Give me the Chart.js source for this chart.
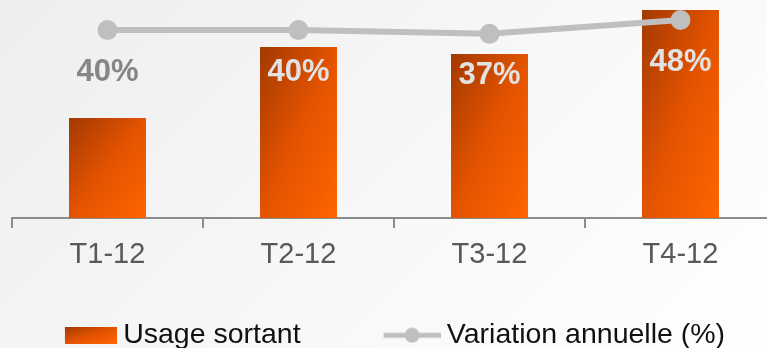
<!DOCTYPE html>
<html lang="fr">
<head>
    <meta charset="UTF-8">
    <title>Usage sortant</title>
    <script src="https://cdn.jsdelivr.net/npm/chart.js"></script>
    <style>
        html, body {
            margin: 0;
            padding: 0;
            width: 767px;
            height: 348px;
            overflow: hidden;
            background: linear-gradient(135deg, #eeeeee 0%, #f8f8f8 55%, #ffffff 100%);
        }
        #wrap {
            position: absolute;
            left: 0;
            top: 0;
            width: 788px;
            height: 348px;
        }
    </style>
</head>
<body>
    <div id="wrap"><canvas id="chart" width="788" height="348"></canvas></div>

    <script>
        // data
        const quarters = ['T1-12', 'T2-12', 'T3-12', 'T4-12'];
        const usageSortant = [100, 171, 164, 208];   // bar heights (relative units)
        const variationAnnuelle = [40, 40, 37, 48];  // %
        const barLabel = 'Usage sortant';
        const lineLabel = 'Variation annuelle (%)';

        const FONT = "'Liberation Sans', Arial, sans-serif";
        const LINE_GREY = '#bfbfbf';
        const BAR_PCT = 0.403;
        const LEGEND_BOX = 122;   // room given to each legend symbol
        const ICON_W = LEGEND_BOX + 16;

        // 45deg gradient that scales with the shape (dark top-left, bright bottom-right)
        function orangeGradient(ctx, x, y, w, h) {
            const k = 2 * w * h / (w * w + h * h);
            const g = ctx.createLinearGradient(x, y, x + k * h, y + k * w);
            g.addColorStop(0, '#a33900');
            g.addColorStop(0.5, '#e35300');
            g.addColorStop(1, '#ff6500');
            return g;
        }

        // legend icons, symbol pushed against the right edge (next to the text)
        const barIcon = document.createElement('canvas');
        barIcon.width = ICON_W; barIcon.height = 17;
        (function () {
            const c = barIcon.getContext('2d');
            const x0 = ICON_W - 52;
            c.fillStyle = orangeGradient(c, x0, 0, 52, 17);
            c.fillRect(x0, 0, 52, 17);
        })();

        const lineIcon = document.createElement('canvas');
        lineIcon.width = ICON_W; lineIcon.height = 16;
        (function () {
            const c = lineIcon.getContext('2d');
            const x0 = ICON_W - 57;
            c.strokeStyle = LINE_GREY;
            c.lineWidth = 5;
            c.beginPath();
            c.moveTo(x0, 8); c.lineTo(ICON_W, 8);
            c.stroke();
            c.fillStyle = LINE_GREY;
            c.beginPath();
            c.arc(x0 + 28.5, 8, 7.5, 0, Math.PI * 2);
            c.fill();
        })();

        // gradient for each bar, from its own box
        function barFill(c) {
            const chart = c.chart;
            const xs = chart.scales.x, ys = chart.scales.y;
            const i = c.dataIndex;
            if (!xs || !ys || i === undefined) return '#e35300';
            const cx = xs.getPixelForValue(i);
            const w = xs.width / quarters.length * BAR_PCT;
            const top = ys.getPixelForValue(usageSortant[i]);
            const base = ys.getPixelForValue(0);
            if (![cx, w, top, base].every(Number.isFinite) || base - top <= 0) return '#e35300';
            return orangeGradient(chart.ctx, cx - w / 2, top, w, base - top);
        }

        // percent labels under each point of the line
        const pointLabels = {
            id: 'pointLabels',
            afterDatasetsDraw(chart) {
                const ctx = chart.ctx;
                const lineMeta = chart.getDatasetMeta(0);
                const barMeta = chart.getDatasetMeta(1);
                ctx.save();
                ctx.font = 'bold 31px ' + FONT;
                ctx.textAlign = 'center';
                ctx.textBaseline = 'middle';
                lineMeta.data.forEach((pt, i) => {
                    const y = pt.y + 42;
                    const bar = barMeta.data[i];
                    ctx.fillStyle = (bar && bar.y < y - 12) ? '#e2e2e2' : '#868686';
                    ctx.fillText(variationAnnuelle[i] + '%', pt.x, y);
                });
                ctx.restore();
            }
        };

        // place the legend row where it sits in the picture
        const legendPlace = {
            id: 'legendPlace',
            afterLayout(chart) {
                const lg = chart.legend;
                if (!lg) return;
                const pad = lg.options.labels.padding;
                lg.top = 321 - pad;
                lg.bottom = chart.height;
                lg.left -= 38;
                lg.right -= 38;
            }
        };

        new Chart(document.getElementById('chart'), {
            data: {
                labels: quarters,
                datasets: [
                    {
                        type: 'line',
                        label: lineLabel,
                        data: variationAnnuelle,
                        yAxisID: 'y1',
                        borderColor: LINE_GREY,
                        borderWidth: 6,
                        backgroundColor: LINE_GREY,
                        pointBackgroundColor: LINE_GREY,
                        pointBorderWidth: 0,
                        pointRadius: 10,
                        tension: 0,
                        clip: false
                    },
                    {
                        type: 'bar',
                        label: barLabel,
                        data: usageSortant,
                        yAxisID: 'y',
                        categoryPercentage: 1,
                        barPercentage: BAR_PCT,
                        backgroundColor: barFill
                    }
                ]
            },
            options: {
                responsive: false,
                animation: false,
                devicePixelRatio: 1,
                layout: { autoPadding: false, padding: { left: 12, right: 12, top: 0, bottom: 0 } },
                scales: {
                    x: {
                        offset: true,
                        border: { display: true, color: '#8c8c8c', width: 2 },
                        grid: {
                            display: true,
                            offset: true,
                            drawOnChartArea: false,
                            drawTicks: true,
                            tickLength: 10,
                            color: '#8c8c8c',
                            lineWidth: 2
                        },
                        ticks: {
                            color: '#595959',
                            padding: 10,
                            font: { family: FONT, size: 29 }
                        },
                        afterFit(scale) { scale.height = 96; }
                    },
                    y: { display: false, min: 0, max: 218 },
                    y1: { display: false, min: -110, max: 64 }
                },
                plugins: {
                    tooltip: { enabled: false },
                    legend: {
                        position: 'bottom',
                        maxHeight: 34,
                        labels: {
                            usePointStyle: true,
                            pointStyleWidth: LEGEND_BOX,
                            padding: 10,
                            color: '#111111',
                            font: { family: FONT, size: 28.5 },
                            sort: (a, b) => b.datasetIndex - a.datasetIndex,
                            generateLabels(chart) {
                                const items = Chart.defaults.plugins.legend.labels.generateLabels(chart);
                                items.forEach(it => {
                                    it.pointStyle = it.datasetIndex === 1 ? barIcon : lineIcon;
                                    it.fontColor = '#111111';
                                });
                                return items;
                            }
                        }
                    }
                }
            },
            plugins: [pointLabels, legendPlace]
        });
    </script>
</body>
</html>
